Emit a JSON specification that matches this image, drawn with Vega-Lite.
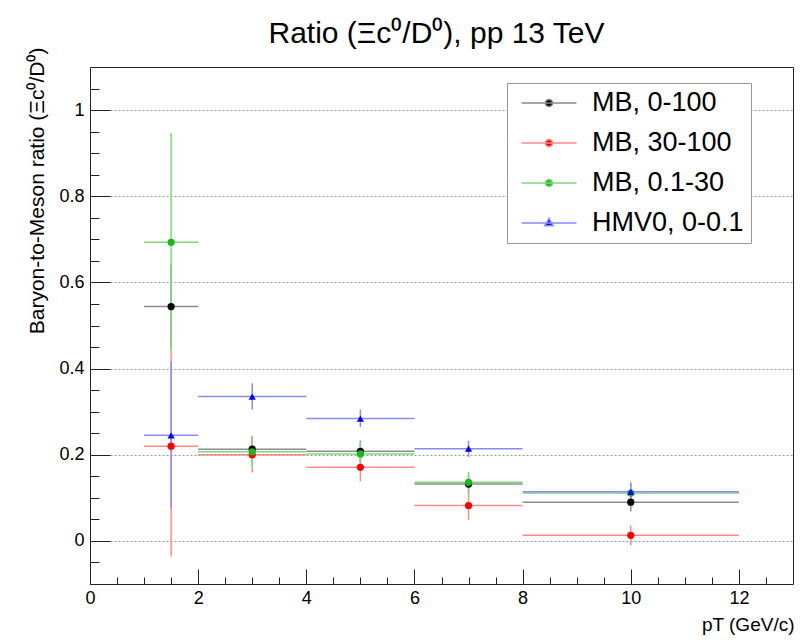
{
  "$schema": "https://vega.github.io/schema/vega-lite/v6.json",
  "autosize": {"type": "none"},
  "width": 703,
  "height": 517,
  "padding": {"left": 90, "top": 67, "right": 12, "bottom": 56},
  "background": "white",
  "title": {
    "text": "Ratio (Ξc⁰/D⁰), pp 13 TeV",
    "font": "Liberation Sans",
    "fontSize": 30,
    "fontWeight": "normal",
    "color": "#000",
    "anchor": "middle",
    "frame": "group",
    "baseline": "alphabetic",
    "offset": -26,
    "dx": -5
  },
  "data": {
    "values": [
      {"series": "MB, 0-100", "x": 1.5, "xlo": 1, "xhi": 2, "y": 0.544, "ylo": 0.45, "yhi": 0.64},
      {"series": "MB, 0-100", "x": 3, "xlo": 2, "xhi": 4, "y": 0.213, "ylo": 0.183, "yhi": 0.243},
      {"series": "MB, 0-100", "x": 5, "xlo": 4, "xhi": 6, "y": 0.208, "ylo": 0.183, "yhi": 0.233},
      {"series": "MB, 0-100", "x": 7, "xlo": 6, "xhi": 8, "y": 0.132, "ylo": 0.11, "yhi": 0.154},
      {"series": "MB, 0-100", "x": 10, "xlo": 8, "xhi": 12, "y": 0.09, "ylo": 0.068, "yhi": 0.112},
      {"series": "MB, 30-100", "x": 1.5, "xlo": 1, "xhi": 2, "y": 0.22, "ylo": -0.036, "yhi": 0.476},
      {"series": "MB, 30-100", "x": 3, "xlo": 2, "xhi": 4, "y": 0.2, "ylo": 0.159, "yhi": 0.241},
      {"series": "MB, 30-100", "x": 5, "xlo": 4, "xhi": 6, "y": 0.171, "ylo": 0.138, "yhi": 0.204},
      {"series": "MB, 30-100", "x": 7, "xlo": 6, "xhi": 8, "y": 0.082, "ylo": 0.048, "yhi": 0.112},
      {"series": "MB, 30-100", "x": 10, "xlo": 8, "xhi": 12, "y": 0.013, "ylo": -0.01, "yhi": 0.036},
      {"series": "MB, 0.1-30", "x": 1.5, "xlo": 1, "xhi": 2, "y": 0.693, "ylo": 0.44, "yhi": 0.947},
      {"series": "MB, 0.1-30", "x": 3, "xlo": 2, "xhi": 4, "y": 0.207, "ylo": 0.171, "yhi": 0.243},
      {"series": "MB, 0.1-30", "x": 5, "xlo": 4, "xhi": 6, "y": 0.202, "ylo": 0.174, "yhi": 0.23},
      {"series": "MB, 0.1-30", "x": 7, "xlo": 6, "xhi": 8, "y": 0.136, "ylo": 0.112, "yhi": 0.16},
      {"series": "MB, 0.1-30", "x": 10, "xlo": 8, "xhi": 12, "y": 0.111, "ylo": 0.09, "yhi": 0.132},
      {"series": "HMV0, 0-0.1", "x": 1.5, "xlo": 1, "xhi": 2, "y": 0.245, "ylo": 0.077, "yhi": 0.416},
      {"series": "HMV0, 0-0.1", "x": 3, "xlo": 2, "xhi": 4, "y": 0.335, "ylo": 0.305, "yhi": 0.366},
      {"series": "HMV0, 0-0.1", "x": 5, "xlo": 4, "xhi": 6, "y": 0.284, "ylo": 0.264, "yhi": 0.305},
      {"series": "HMV0, 0-0.1", "x": 7, "xlo": 6, "xhi": 8, "y": 0.214, "ylo": 0.195, "yhi": 0.233},
      {"series": "HMV0, 0-0.1", "x": 10, "xlo": 8, "xhi": 12, "y": 0.114, "ylo": 0.092, "yhi": 0.136}
    ]
  },
  "layer": [
    {
      "mark": {"type": "rule", "strokeWidth": 1.5},
      "encoding": {
        "x": {"field": "xlo", "type": "quantitative", "scale": {"domain": [0, 13], "nice": false, "zero": false},
          "axis": {"title": "pT (GeV/c)", "format": "~g", "values": [0,0.5,1,1.5,2,2.5,3,3.5,4,4.5,5,5.5,6,6.5,7,7.5,8,8.5,9,9.5,10,10.5,11,11.5,12,12.5],
            "tickSize": {"condition": {"test": "datum.value % 2 === 0", "value": -15}, "value": -7},
            "labelExpr": "datum.value % 2 === 0 ? datum.label : ''"}},
        "x2": {"field": "xhi"},
        "y": {"field": "y", "type": "quantitative", "scale": {"domain": [-0.1, 1.1], "nice": false, "zero": false},
          "axis": {"title": "Baryon-to-Meson ratio (Ξc⁰/D⁰)", "format": "~g", "values": [-0.05,0,0.05,0.1,0.15,0.2,0.25,0.3,0.35,0.4,0.45,0.5,0.55,0.6,0.65,0.7,0.75,0.8,0.85,0.9,0.95,1,1.05],
            "tickSize": {"condition": {"test": "abs(round(datum.value*20)) % 4 === 0", "value": -20}, "value": -9},
            "gridOpacity": {"condition": {"test": "abs(round(datum.value*20)) % 4 === 0", "value": 1}, "value": 0},
            "labelExpr": "abs(round(datum.value*20)) % 4 === 0 ? datum.label : ''"}},
        "stroke": {"field": "series", "type": "nominal",
          "scale": {"domain": ["HMV0, 0-0.1", "MB, 0-100", "MB, 30-100", "MB, 0.1-30"], "range": ["#8a8aff", "#8c8c8c", "#ff8a8a", "#7fd87f"]},
          "legend": null}
      }
    },
    {
      "mark": {"type": "rule", "strokeWidth": 1.5},
      "encoding": {
        "x": {"field": "x", "type": "quantitative",
          "axis": {"title": "pT (GeV/c)", "format": "~g", "values": [0,0.5,1,1.5,2,2.5,3,3.5,4,4.5,5,5.5,6,6.5,7,7.5,8,8.5,9,9.5,10,10.5,11,11.5,12,12.5],
            "tickSize": {"condition": {"test": "datum.value % 2 === 0", "value": -15}, "value": -7},
            "labelExpr": "datum.value % 2 === 0 ? datum.label : ''"}},
        "y": {"field": "ylo", "type": "quantitative",
          "axis": {"title": "Baryon-to-Meson ratio (Ξc⁰/D⁰)", "format": "~g", "values": [-0.05,0,0.05,0.1,0.15,0.2,0.25,0.3,0.35,0.4,0.45,0.5,0.55,0.6,0.65,0.7,0.75,0.8,0.85,0.9,0.95,1,1.05],
            "tickSize": {"condition": {"test": "abs(round(datum.value*20)) % 4 === 0", "value": -20}, "value": -9},
            "gridOpacity": {"condition": {"test": "abs(round(datum.value*20)) % 4 === 0", "value": 1}, "value": 0},
            "labelExpr": "abs(round(datum.value*20)) % 4 === 0 ? datum.label : ''"}},
        "y2": {"field": "yhi"},
        "stroke": {"field": "series", "type": "nominal", "legend": null}
      }
    },
    {
      "mark": {"type": "point", "filled": true, "opacity": 1, "size": 52},
      "encoding": {
        "x": {"field": "x", "type": "quantitative",
          "axis": {"title": "pT (GeV/c)", "format": "~g", "values": [0,0.5,1,1.5,2,2.5,3,3.5,4,4.5,5,5.5,6,6.5,7,7.5,8,8.5,9,9.5,10,10.5,11,11.5,12,12.5],
            "tickSize": {"condition": {"test": "datum.value % 2 === 0", "value": -15}, "value": -7},
            "labelExpr": "datum.value % 2 === 0 ? datum.label : ''"}},
        "y": {"field": "y", "type": "quantitative",
          "axis": {"title": "Baryon-to-Meson ratio (Ξc⁰/D⁰)", "format": "~g", "values": [-0.05,0,0.05,0.1,0.15,0.2,0.25,0.3,0.35,0.4,0.45,0.5,0.55,0.6,0.65,0.7,0.75,0.8,0.85,0.9,0.95,1,1.05],
            "tickSize": {"condition": {"test": "abs(round(datum.value*20)) % 4 === 0", "value": -20}, "value": -9},
            "gridOpacity": {"condition": {"test": "abs(round(datum.value*20)) % 4 === 0", "value": 1}, "value": 0},
            "labelExpr": "abs(round(datum.value*20)) % 4 === 0 ? datum.label : ''"}},
        "shape": {"field": "series", "type": "nominal",
          "scale": {"domain": ["HMV0, 0-0.1", "MB, 0-100", "MB, 30-100", "MB, 0.1-30"], "range": ["triangle-up", "circle", "circle", "circle"]},
          "legend": null},
        "color": {"field": "series", "type": "nominal",
          "scale": {"domain": ["MB, 0-100", "MB, 30-100", "MB, 0.1-30", "HMV0, 0-0.1"], "range": ["#000000", "#ff0000", "#1db41d", "#0000ff"]},
          "legend": {
            "title": null,
            "orient": "none",
            "legendX": 417,
            "legendY": 16,
            "symbolSize": 400,
            "symbolStrokeWidth": 1.5,
            "labelFont": "Liberation Sans",
            "labelFontSize": 27,
            "labelColor": "#000",
            "labelLimit": 400,
            "padding": 6.5,
            "symbolOffset": 22,
            "labelOffset": 29.5,
            "rowPadding": 12,
            "fillColor": "white",
            "strokeColor": "#999999",
            "labelExpr": "datum.label + '\u00a0\u00a0\u00a0\u00a0'",
            "encoding": {
              "symbols": {
                "shape": {"condition": {"test": "datum.value === 'HMV0, 0-0.1'", "value": "M-2.75,0H2.75M0,-0.45L0.42,0.28L-0.42,0.28Z"}, "value": "M-2.75,0H2.75M0.36,0A0.36,0.36,0,1,1,-0.36,0A0.36,0.36,0,1,1,0.36,0Z"},
                "stroke": {"condition": [
                  {"test": "datum.value === 'MB, 30-100'", "value": "#ff8a8a"},
                  {"test": "datum.value === 'MB, 0.1-30'", "value": "#7fd87f"},
                  {"test": "datum.value === 'HMV0, 0-0.1'", "value": "#8a8aff"}
                ], "value": "#8c8c8c"}
              }
            }
          }}
      }
    }
  ],
  "config": {
    "view": {"stroke": "#222", "strokeWidth": 1},
    "axis": {
      "domain": false,
      "tickColor": "#222",
      "tickWidth": 1,
      "labelFont": "Liberation Sans",
      "labelColor": "#000",
      "labelFontSize": 18,
      "labelFlush": false,
      "labelOverlap": false,
      "labelBound": false,
      "titleFont": "Liberation Sans",
      "titleFontWeight": "normal",
      "titleColor": "#000"
    },
    "axisX": {
      "grid": false,
      "labelPadding": 20,
      "titleFontSize": 19,
      "titleAnchor": "end",
      "titleAlign": "right",
      "titleBaseline": "alphabetic",
      "titleAngle": 0,
      "titleX": 704,
      "titleY": 46
    },
    "axisY": {
      "grid": true,
      "gridColor": "#999999",
      "gridDash": [2, 2],
      "gridWidth": 1,
      "labelPadding": 26,
      "titleFontSize": 21,
      "titleAngle": -90,
      "titleAlign": "right",
      "titleBaseline": "middle",
      "titleX": -53,
      "titleY": -20
    }
  }
}
